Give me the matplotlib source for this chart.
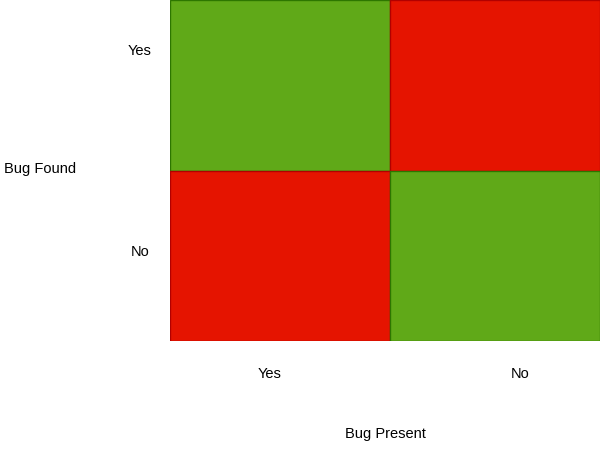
import matplotlib.pyplot as plt

plt.rcParams['font.family'] = ['Liberation Sans', 'DejaVu Sans']

# confusion-style grid: rows = Bug Found (Yes, No), cols = Bug Present (Yes, No)
present_labels = ["Yes", "No"]
found_labels = ["Yes", "No"]
correct = [[1, 0],
           [0, 1]]
col_widths = [220, 210]
row_height = 170

fill = {1: "#60a918", 0: "#e51400"}
edge = {1: "#2d7600", 0: "#b20000"}

W, H = 601, 451
fs = 10.5
fig = plt.figure(figsize=(W / 100, H / 100), dpi=100)
ax = fig.add_axes([170 / W, (H - 341) / H, 430 / W, 341 / H])

x0 = 0
for j, w in enumerate(col_widths):
    for i in range(len(found_labels)):
        ok = correct[i][j]
        ax.bar(x0, row_height, width=w, bottom=(1 - i) * row_height, align="edge",
               color=fill[ok], edgecolor=edge[ok], linewidth=1)
    x0 += w
ax.set_xlim(0, sum(col_widths))
ax.set_ylim(0, 2 * row_height)
ax.axis("off")

for lab, y in zip(found_labels, [51, 252]):
    fig.text(140 / W, 1 - y / H, lab, ha="center", va="center", fontsize=fs)
fig.text(40 / W, 1 - 169 / H, "Bug Found", ha="center", va="center", fontsize=fs)
for lab, x in zip(present_labels, [270, 520]):
    fig.text(x / W, 1 - 374 / H, lab, ha="center", va="center", fontsize=fs)
fig.text(385 / W, 1 - 434 / H, "Bug Present", ha="center", va="center", fontsize=fs)

fig.savefig("out.png", dpi=100)
